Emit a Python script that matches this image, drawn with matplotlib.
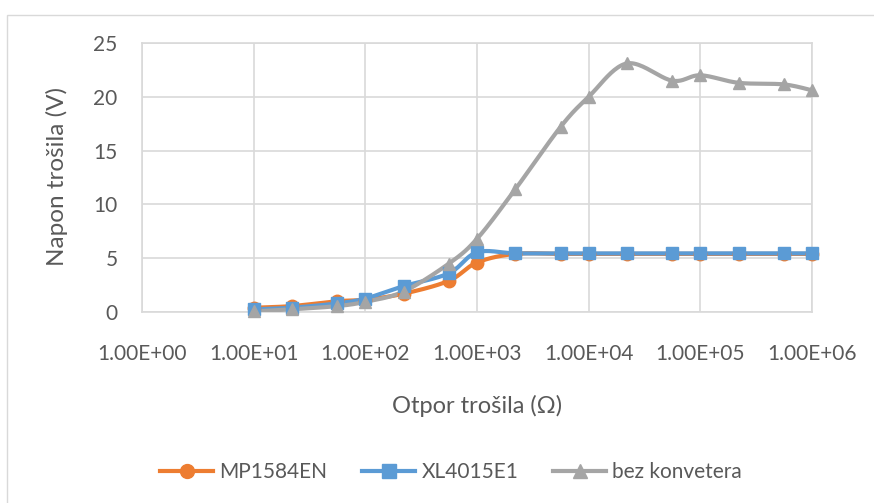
import numpy as np
import matplotlib
matplotlib.use("Agg")
import matplotlib.pyplot as plt
from matplotlib.patches import Rectangle

# ---- data ----
resistance = [10, 22, 56, 100, 220, 560, 1000, 2200, 5600, 10000,
              22000, 56000, 100000, 220000, 560000, 1000000]
mp1584en = [0.4, 0.55, 1.0, 1.15, 1.7, 2.9, 4.6, 5.4, 5.4, 5.4,
            5.4, 5.4, 5.4, 5.4, 5.4, 5.4]
xl4015e1 = [0.25, 0.4, 0.8, 1.25, 2.4, 3.6, 5.55, 5.45, 5.45, 5.45,
            5.45, 5.45, 5.45, 5.45, 5.45, 5.45]
bez_konv = [0.05, 0.25, 0.55, 0.95, 1.9, 4.5, 6.8, 11.4, 17.2, 20.0,
            23.1, 21.5, 22.0, 21.3, 21.15, 20.6]
series_names = ["MP1584EN", "XL4015E1", "bez konvetera"]
x_ticks = [1, 10, 100, 1000, 10000, 100000, 1000000]
x_tick_labels = ["1.00E+00", "1.00E+01", "1.00E+02", "1.00E+03",
                 "1.00E+04", "1.00E+05", "1.00E+06"]
y_ticks = [0, 5, 10, 15, 20, 25]

colors = ["#ED7D31", "#5B9BD5", "#A5A5A5"]
markers = ["o", "s", "^"]
text_color = "#595959"
grid_color = "#D9D9D9"

plt.rcParams["font.family"] = ["Lato", "DejaVu Sans"]

W, H = 874, 503
fig = plt.figure(figsize=(W / 100, H / 100), dpi=100)
# chart border (left/top visible)
fig.patches.append(Rectangle((7 / W, -0.05), 1.0, (H - 15) / H + 0.05,
                             transform=fig.transFigure, fill=False,
                             edgecolor="#D9D9D9", linewidth=1.0))

ax = fig.add_axes([142 / W, (H - 312) / H, (812 - 142) / W, (312 - 43) / H])
ax.set_xscale("log")
ax.set_xlim(1, 1e6)
ax.set_ylim(0, 25)
ax.set_xticks(x_ticks)
ax.set_xticklabels(x_tick_labels)
ax.xaxis.set_minor_locator(matplotlib.ticker.NullLocator())
ax.set_yticks(y_ticks)
ax.grid(True, color=grid_color, linewidth=1.2)
ax.set_axisbelow(True)
for s in ax.spines.values():
    s.set_color(grid_color)
    s.set_linewidth(1.2)
ax.tick_params(axis="both", length=0, colors=text_color, labelsize=15)
ax.tick_params(axis="x", pad=23)
ax.tick_params(axis="y", pad=17.5)
ax.set_xlabel("Otpor trošila (Ω)", fontsize=17, color=text_color, labelpad=22.5)
fig.text(64 / W, (H - 176) / H, "Napon trošila (V)", rotation=90,
         rotation_mode="anchor", ha="center", va="baseline",
         fontsize=17.5, color=text_color)


def smooth(xs, ys, n=24):
    pts = ax.transData.transform(np.column_stack([xs, ys]))
    out = [pts[0]]
    m = len(pts)
    for i in range(m - 1):
        p0 = pts[i - 1] if i > 0 else pts[i]
        p1 = pts[i]
        p2 = pts[i + 1]
        p3 = pts[i + 2] if i + 2 < m else pts[i + 1]
        c1 = p1 + (p2 - p0) / 6.0
        c2 = p2 - (p3 - p1) / 6.0
        t = np.linspace(0, 1, n)[1:, None]
        seg = ((1 - t) ** 3) * p1 + 3 * ((1 - t) ** 2) * t * c1 + 3 * (1 - t) * t ** 2 * c2 + t ** 3 * p2
        out.extend(seg)
    out = np.array(out)
    back = ax.transData.inverted().transform(out)
    return back[:, 0], back[:, 1]


all_series = [mp1584en, xl4015e1, bez_konv]
handles = []
for ys, c, mk, name in zip(all_series, colors, markers, series_names):
    sx, sy = smooth(resistance, ys)
    ax.plot(sx, sy, color=c, linewidth=3, solid_capstyle="round", zorder=3)
    ax.plot(resistance, ys, linestyle="none", marker=mk, markersize=9,
            color=c, markeredgecolor=c, zorder=4, clip_on=False)
    h, = ax.plot([], [], color=c, linewidth=3, marker=mk, markersize=10, label=name)
    handles.append(h)

leg = fig.legend(handles=handles, loc="center left", bbox_to_anchor=(160 / W, (H - 472) / H),
                 ncol=3, frameon=False, fontsize=15, handlelength=2.55, borderpad=0,
                 borderaxespad=0, columnspacing=1.68, handletextpad=0.29)
for t in leg.get_texts():
    t.set_color(text_color)

fig.savefig("out.png", dpi=100)
